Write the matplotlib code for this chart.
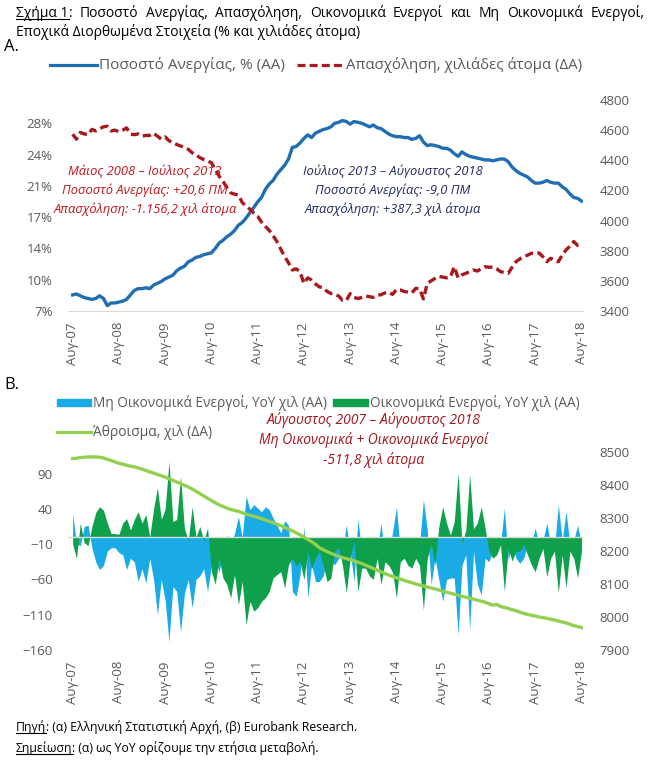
import numpy as np
import matplotlib
matplotlib.use('Agg')
import matplotlib.pyplot as plt
from matplotlib.lines import Line2D
from matplotlib.patches import Rectangle

plt.rcParams['font.family'] = ['Open Sans', 'DejaVu Sans']

# ---- data: monthly, Aug-07 .. Aug-18 ----
tick_labels = ['Αυγ-07', 'Αυγ-08', 'Αυγ-09', 'Αυγ-10', 'Αυγ-11', 'Αυγ-12',
               'Αυγ-13', 'Αυγ-14', 'Αυγ-15', 'Αυγ-16', 'Αυγ-17', 'Αυγ-18']

unemployment = [
    8.8, 8.9, 8.7, 8.5, 8.4, 8.3, 8.4, 8.7, 8.4, 7.6, 7.9, 7.9,
    8.0, 8.1, 8.3, 8.8, 9.3, 9.5, 9.5, 9.6, 9.5, 9.9, 10.1, 10.3,
    10.6, 10.8, 11.0, 11.5, 11.8, 12.0, 12.5, 12.7, 13.0, 13.1, 13.3, 13.4,
    13.5, 14.0, 14.6, 14.9, 15.3, 15.6, 16.0, 16.6, 16.9, 17.4, 18.0, 18.6,
    19.2, 19.7, 20.6, 21.2, 21.6, 22.3, 22.8, 23.3, 24.0, 25.3, 25.4, 25.8,
    26.3, 26.7, 26.4, 26.9, 27.1, 27.3, 27.4, 27.6, 28.0, 28.1, 28.3, 28.2,
    27.9, 28.2, 28.1, 28.0, 27.8, 27.6, 27.8, 27.5, 27.4, 27.1, 26.8, 26.6,
    26.5, 26.5, 26.4, 26.4, 26.2, 26.3, 26.6, 25.9, 25.5, 25.6, 25.5, 25.4,
    25.2, 25.2, 25.0, 24.6, 24.3, 24.8, 24.5, 24.3, 24.2, 24.1, 24.0, 23.9,
    23.9, 23.8, 23.9, 24.0, 24.0, 23.7, 23.1, 22.7, 22.4, 22.2, 22.0, 21.6,
    21.3, 21.3, 21.4, 21.6, 21.4, 21.3, 21.3, 20.9, 20.6, 20.1, 19.7, 19.6,
    19.3]

employment = [
    4573, 4540, 4585, 4575, 4570, 4605, 4595, 4610, 4622, 4626, 4595, 4600,
    4590, 4600, 4615, 4573, 4570, 4575, 4560, 4565, 4565, 4580, 4560, 4540,
    4555, 4530, 4518, 4505, 4495, 4485, 4473, 4450, 4435, 4418, 4405, 4395,
    4384, 4340, 4295, 4260, 4220, 4184, 4175, 4170, 4120, 4095, 4075, 4050,
    4028, 3990, 3961, 3935, 3900, 3861, 3810, 3761, 3720, 3672, 3680, 3660,
    3583, 3620, 3605, 3580, 3560, 3555, 3530, 3516, 3510, 3500, 3471, 3470,
    3515, 3490, 3483, 3490, 3500, 3495, 3490, 3505, 3508, 3520, 3525, 3510,
    3543, 3540, 3530, 3525, 3520, 3550, 3548, 3480, 3583, 3600, 3616, 3630,
    3625, 3620, 3625, 3694, 3620, 3640, 3650, 3660, 3672, 3665, 3680, 3694,
    3690, 3692, 3680, 3661, 3655, 3650, 3690, 3727, 3745, 3761, 3770, 3783,
    3780, 3785, 3760, 3727, 3750, 3735, 3727, 3770, 3805, 3830, 3861, 3835,
    3839]

nonactive_yoy = [
    34, -10, -12, 15, 17, -15, -35, -46, -40, -20, -15, -15,
    -22, -25, -46, -30, -35, -63, -45, -65, -30, -60, -110, -60,
    -90, -148, -70, -77, -134, -80, -60, -100, -60, -55, -45, -77,
    -40, -30, -50, -20, 3, -10, 5, 29, 0, 58, 39, 46,
    41, 36, 43, 39, 27, 17, 6, 23, 17, -77, -84, -53,
    15, -86, -39, -63, -63, -55, -30, -35, -39, -30, -20, 17,
    -20, -63, 25, -20, -10, -15, -30, -20, 20, -30, -20, 7,
    43, -20, -30, -15, -10, -20, -10, 53, 10, -67, -30, -60,
    -91, -60, -58, -58, -138, -40, -25, -131, -20, -67, -82, -30,
    -35, -20, -15, -10, 41, -32, -10, -30, -37, -30, -10, -10,
    13, -10, -5, 20, -10, -15, 46, -5, 36, -10, -5, 17,
    -10]

active_yoy = [
    -10, -30, 20, -8, -12, 15, 35, 43, 38, 20, 5, 5,
    4, 20, 26, 10, 25, 36, 20, 32, 0, 40, 70, 25,
    40, 107, 22, 25, 86, 12, -5, 43, 0, 15, -5, 13,
    -49, -67, -30, -58, -67, -86, -53, -96, -63, -124, -91, -105,
    -100, -91, -86, -77, -58, -53, -49, -72, -39, -30, -40, -35,
    -60, -20, -45, -30, -20, -40, -63, -58, -20, -15, -40, -79,
    -30, -5, -77, -44, -44, -55, -60, -30, -67, -35, -40, -50,
    -86, -35, -30, -40, -44, -30, -40, -103, -30, -10, -39, 15,
    43, 20, 3, 22, 91, -10, 10, 88, 12, 20, 43, 13,
    -20, -30, -25, -11, -77, -16, -34, -20, -20, -11, -25, -39,
    -49, -30, -16, -56, -30, -20, -79, -25, -72, -20, -30, -58,
    -20]

total = [
    8480, 8481, 8483, 8484, 8485, 8485, 8485, 8484, 8482, 8478, 8474, 8470,
    8466, 8463, 8460, 8457, 8455, 8452, 8448, 8444, 8440, 8436, 8432, 8428,
    8424, 8419, 8414, 8409, 8404, 8399, 8394, 8388, 8381, 8374, 8367, 8360,
    8353, 8346, 8340, 8335, 8330, 8326, 8323, 8320, 8316, 8312, 8308, 8305,
    8302, 8298, 8294, 8290, 8286, 8281, 8277, 8272, 8266, 8261, 8255, 8249,
    8242, 8235, 8228, 8220, 8210, 8204, 8198, 8193, 8188, 8184, 8180, 8177,
    8174, 8170, 8166, 8162, 8157, 8152, 8147, 8142, 8137, 8132, 8127, 8123,
    8119, 8115, 8111, 8107, 8104, 8100, 8097, 8094, 8091, 8088, 8085, 8082,
    8078, 8075, 8072, 8069, 8066, 8063, 8060, 8057, 8054, 8051, 8048, 8045,
    8040, 8036, 8038, 8032, 8029, 8026, 8022, 8019, 8015, 8011, 8008, 8005,
    8003, 8000, 7998, 7996, 7993, 7991, 7988, 7985, 7982, 7978, 7974, 7971,
    7968]

rate_ticks = [7, 10.5, 14, 17.5, 21, 24.5, 28]
rate_tick_labels = ['7%', '10%', '14%', '17%', '21%', '24%', '28%']
yoy_ticks = [-160, -110, -60, -10, 40, 90]

# ---- colours ----
C_UNEMP = '#1F6EB3'
C_EMPL = '#A8191E'
C_NONACT = '#1AABE6'
C_ACT = '#0EA04B'
C_TOTAL = '#92D050'
C_TICK = '#595959'
C_AXIS = '#D9D9D9'

W, H = 657, 764
fig = plt.figure(figsize=(W / 100, H / 100), dpi=100)
fig.patch.set_facecolor('white')
renderer = fig.canvas.get_renderer()


def fx(x):
    return x / W


def fy(y):
    return 1 - y / H


def axes_px(left, top, right, bottom):
    return fig.add_axes([fx(left), fy(bottom), (right - left) / W, (bottom - top) / H])


def px_text(x, y, s, **kw):
    return fig.text(fx(x), fy(y), s, **kw)


def text_width(s, **kw):
    t = fig.text(0, 0, s, **kw)
    w = t.get_window_extent(renderer).width
    t.remove()
    return w


def underline(t, y, color):
    bb = t.get_window_extent(renderer)
    fig.add_artist(Line2D([bb.x0 / W, bb.x1 / W], [fy(y + 2), fy(y + 2)],
                          color=color, lw=0.8, transform=fig.transFigure))
    return bb


def underlined(x, y, head, tail, **kw):
    # head is underlined, tail follows on the same baseline
    t = px_text(x, y, head, va='baseline', **kw)
    bb = underline(t, y, kw.get('color', 'black'))
    fig.text(bb.x1 / W, fy(y), tail, va='baseline', **kw)


def style_axes(ax, ax2):
    for a in (ax, ax2):
        for s in a.spines.values():
            s.set_visible(False)
        a.tick_params(length=0, labelsize=9.5, labelcolor=C_TICK)
    ax.tick_params(axis='y', pad=11)
    ax2.tick_params(axis='y', pad=12)
    ax.tick_params(axis='x', pad=8)
    ax.set_xlim(-1.2, 132.4)
    ax.set_xticks(np.arange(0, 133, 12))
    ax.set_xticklabels(tick_labels, rotation=90, va='top', ha='center')


x = np.arange(len(unemployment))

# ---- header: first line justified between x=16 and x=645 ----
title_kw = dict(fontsize=10, color='black')
words = ['Ποσοστό', 'Ανεργίας,', 'Απασχόληση,', 'Οικονομικά', 'Ενεργοί', 'και', 'Μη',
         'Οικονομικά', 'Ενεργοί,']
head_w = text_width('Σχήμα 1', **title_kw) + text_width(':', **title_kw)
widths = [text_width(w, **title_kw) for w in words]
gap = (645 - 16 - head_w - sum(widths)) / len(words)
t = px_text(16, 17, 'Σχήμα 1', va='baseline', **title_kw)
bb = underline(t, 17, 'black')
fig.text(bb.x1 / W, fy(17), ':', va='baseline', **title_kw)
xpos = 16 + head_w + gap
for w, wd in zip(words, widths):
    px_text(xpos, 17, w, va='baseline', **title_kw)
    xpos += wd + gap
px_text(16, 36, 'Εποχικά Διορθωμένα Στοιχεία (% και χιλιάδες άτομα)', va='baseline',
        **title_kw)

# ---- panel A ----
px_text(4, 47, 'A.', fontsize=12, va='center')

fig.add_artist(Line2D([fx(50), fx(97)], [fy(65), fy(65)], color=C_UNEMP, lw=2.3,
                      transform=fig.transFigure))
px_text(99, 65, 'Ποσοστό Ανεργίας, % (ΑΑ)', fontsize=11, color=C_TICK, va='center')
fig.add_artist(Line2D([fx(297), fx(343)], [fy(65), fy(65)], color=C_EMPL, lw=2.3,
                      dashes=(2.5, 1.3), transform=fig.transFigure))
px_text(346, 65, 'Απασχόληση, χιλιάδες άτομα (ΔΑ)', fontsize=10.8, color=C_TICK,
        va='center')

axA = axes_px(68, 100, 583, 311)
axA2 = axA.twinx()
axA.plot(x, unemployment, color=C_UNEMP, lw=2.4, solid_joinstyle='round')
axA2.plot(x, employment, color=C_EMPL, lw=2.4, dashes=(2.5, 1.3))

axA.set_ylim(7, 30.6)
axA.set_yticks(rate_ticks)
axA.set_yticklabels(rate_tick_labels)
axA2.set_ylim(3400, 4800)
axA2.set_yticks(np.arange(3400, 4801, 200))
style_axes(axA, axA2)
axA.spines['bottom'].set_visible(True)
axA.spines['bottom'].set_color(C_AXIS)

for i, s in enumerate(['Μάιος 2008 – Ιούλιος 2013', 'Ποσοστό Ανεργίας: +20,6 ΠΜ',
                       'Απασχόληση: -1.156,2 χιλ άτομα']):
    px_text(145, 171 + 19 * i, s, fontsize=9.3, style='italic', color='#C3151B',
            ha='center', va='center')
for i, s in enumerate(['Ιούλιος 2013 – Αύγουστος 2018', 'Ποσοστό Ανεργίας: -9,0 ΠΜ',
                       'Απασχόληση: +387,3 χιλ άτομα']):
    px_text(393, 171 + 19 * i, s, fontsize=9.3, style='italic', color='#1F2B5E',
            ha='center', va='center')

# ---- panel B ----
px_text(4, 385, 'B.', fontsize=12, va='center')

fig.add_artist(Rectangle((fx(57), fy(406)), 34 / W, 7 / H, color=C_NONACT,
                         transform=fig.transFigure))
px_text(93, 403, 'Μη Οικονομικά Ενεργοί, YoY χιλ (ΑΑ)', fontsize=9.8, color=C_TICK,
        va='center')
fig.add_artist(Rectangle((fx(333), fy(406)), 35 / W, 7 / H, color=C_ACT,
                         transform=fig.transFigure))
px_text(370, 403, 'Οικονομικά Ενεργοί, YoY χιλ (ΑΑ)', fontsize=9.8, color=C_TICK,
        va='center')
fig.add_artist(Line2D([fx(57), fx(91)], [fy(432), fy(432)], color=C_TOTAL, lw=2.3,
                      transform=fig.transFigure))
px_text(93, 432, 'Άθροισμα, χιλ (ΔΑ)', fontsize=10, color=C_TICK, va='center')

for i, s in enumerate(['Αύγουστος 2007 – Αύγουστος 2018',
                       'Μη Οικονομικά + Οικονομικά Ενεργοί', '-511,8 χιλ άτομα']):
    px_text(374, 420 + 20 * i, s, fontsize=10, style='italic', color='#A3141C',
            ha='center', va='center')

axB = axes_px(68, 452, 583, 650)
axB2 = axB.twinx()
axB.fill_between(x, 0, nonactive_yoy, color=C_NONACT, lw=0, zorder=2)
axB.fill_between(x, 0, active_yoy, color=C_ACT, lw=0, zorder=3)
axB.axhline(0, color=C_AXIS, lw=1, zorder=4)
axB2.plot(x, total, color=C_TOTAL, lw=2.4)

axB.set_ylim(-160, 120.6)
axB.set_yticks(yoy_ticks)
axB2.set_ylim(7900, 8500)
axB2.set_yticks(np.arange(7900, 8501, 100))
style_axes(axB, axB2)

# ---- footer ----
underlined(16, 731, 'Πηγή', ': (α) Ελληνική Στατιστική Αρχή, (β) Eurobank Research.',
           fontsize=8.8, color='black')
underlined(16, 752, 'Σημείωση', ': (α) ως YoY ορίζουμε την ετήσια μεταβολή.',
           fontsize=8.8, color='black')

fig.savefig('out.png', dpi=100, facecolor='white')
